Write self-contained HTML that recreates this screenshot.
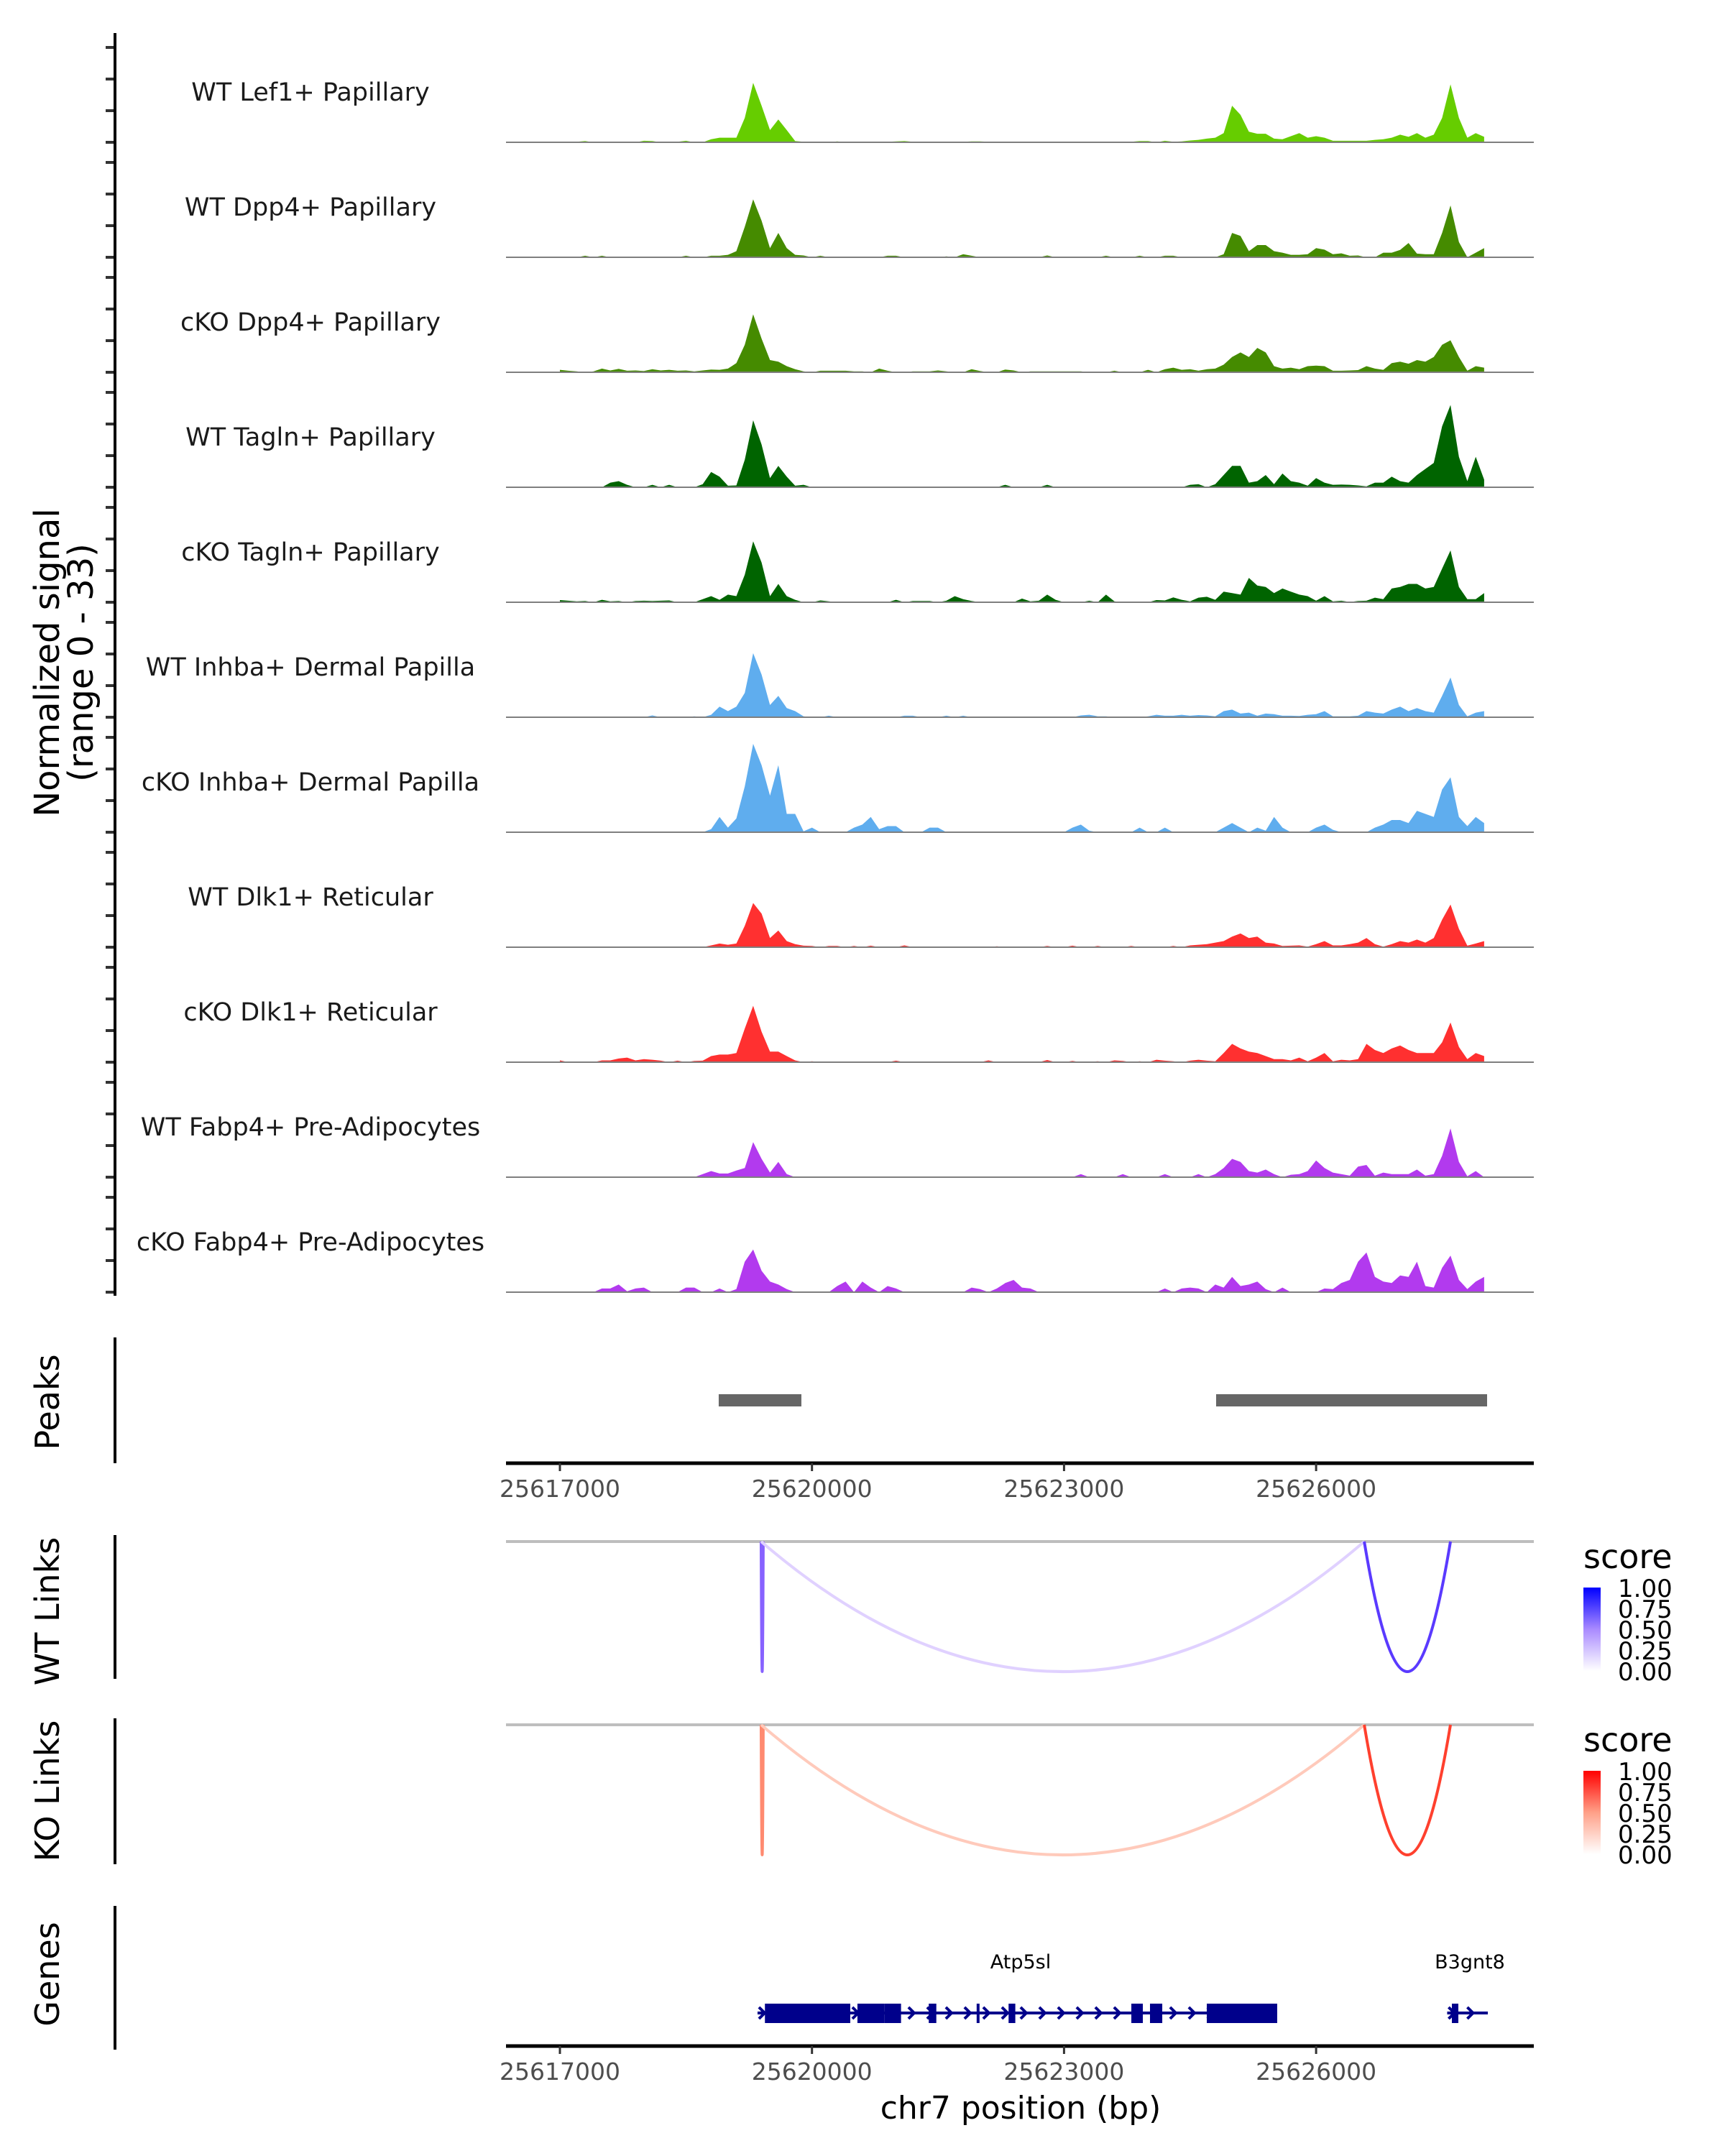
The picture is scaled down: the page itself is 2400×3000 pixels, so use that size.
<!DOCTYPE html>
<html><head><meta charset="utf-8"><style>
html,body{margin:0;padding:0;background:#fff}
svg{display:block}
text{font-family:"DejaVu Sans","Liberation Sans",sans-serif}
</style></head><body>
<svg id="chart" width="2400" height="3000" viewBox="0 0 2400 3000" xmlns="http://www.w3.org/2000/svg">
<defs>
<linearGradient id="gradBlue" x1="0" y1="1" x2="0" y2="0"><stop offset="0" stop-color="#ffffff"/><stop offset="0.5" stop-color="#a98aff"/><stop offset="1" stop-color="#0000ff"/></linearGradient>
<linearGradient id="gradRed" x1="0" y1="1" x2="0" y2="0"><stop offset="0" stop-color="#ffffff"/><stop offset="0.5" stop-color="#ffa088"/><stop offset="1" stop-color="#ff0000"/></linearGradient>
</defs>
<g id="tracks"></g>
<g id="rest"></g>
</svg>
<script>
const trackNames = ["WT Lef1+ Papillary","WT Dpp4+ Papillary","cKO Dpp4+ Papillary","WT Tagln+ Papillary","cKO Tagln+ Papillary","WT Inhba+ Dermal Papilla","cKO Inhba+ Dermal Papilla","WT Dlk1+ Reticular","cKO Dlk1+ Reticular","WT Fabp4+ Pre-Adipocytes","cKO Fabp4+ Pre-Adipocytes"];
const trackColors = ["#66cd00","#458b00","#458b00","#006400","#006400","#5fadee","#5fadee","#ff3030","#ff3030","#b23aee","#b23aee"];
const binStart = 25617000;
const binSize = 100;
const sigLef1WT = [0,0,0.2,0.4,0,0,0.2,0,0.2,0, 0.5,0.4,0,0,0.2,0.5,0,0,1,1.5, 1.5,1.5,8,19.5,12,4,7.5,4,0.4,0.2, 0,0,0,0.3,0,0,0.2,0,0,0.2, 0.3,0.4,0.2,0.2,0.2,0.2,0.2,0.2,0.2,0.3, 0.3,0.2,0,0,0,0.2,0.2,0,0.2,0, 0.2,0,0.2,0.2,0.2,0,0.2,0,0.2,0.4, 0.4,0,0.5,0.2,0.3,0.6,0.8,1.2,1.5,3, 12,9,3.5,2.8,2.8,1.2,1,2,3,1.5, 2,1.5,0.5,0.5,0.5,0.5,0.5,0.8,1,1.5, 2.5,1.8,3,1.5,2.5,8,19,8,1.5,3,1.8];
const sigDpp4WT = [0,0,0,0.5,0,0.5,0,0,0,0, 0,0,0,0,0,0.5,0,0,0.5,0.5, 0.8,2,10,19,12,3,8,3,0.8,0.6, 0,0.5,0,0,0,0,0,0,0,0.5, 0.5,0,0,0,0,0,0.3,0,1,0.5, 0,0,0,0,0,0,0,0,0.6,0, 0,0,0,0,0,0.5,0,0,0,0.5, 0,0,0.5,0.5,0,0,0,0,0,1, 8,7,2,4,4,2,1.5,0.8,0.8,1, 3,2.5,1,1.3,0.5,0.6,0,0,1.5,1.5, 2.4,4.7,1.2,1,1,8,17,5,0,1.5,3];
const sigDpp4KO = [0.8,0.5,0.3,0,0.3,1.2,0.6,1.1,0.5,0.6, 0.4,1,0.6,0.8,0.5,0.6,0.3,0.6,0.9,0.8, 1.2,3,9,19,11,4,3.5,2,1,0.3, 0,0.5,0.5,0.5,0.5,0.3,0.3,0,1.2,0.5, 0,0,0.3,0.3,0.3,0.6,0.3,0,0,1, 0.4,0,0,0.9,0.6,0,0.3,0.3,0.3,0.3, 0.3,0.3,0.3,0,0,0,0.5,0,0,0, 0.8,0,1,1.5,0.8,1,0.5,1,1.2,2.5, 5,6.5,5,8,6.5,2,1.2,1.5,1,2, 2.2,2,0.5,0.5,0.6,0.7,2,1.2,0.8,3, 3.5,2.8,4,3.5,5,9,10.5,5,0.5,2,1.5];
const sigTaglnWT = [0,0,0,0,0,0,1.5,2,0.8,0, 0,0.8,0,0.8,0,0,0,1,5,3.5, 0.5,0.6,9,22,14,3,7,3.5,0.5,0.8, 0,0,0,0,0,0,0,0,0,0, 0,0,0,0,0,0,0,0,0,0, 0,0,0,0.8,0,0,0,0,0.8,0, 0,0,0,0,0,0,0,0,0,0, 0,0,0,0,0,0.8,1,0,1,4, 7,7,1.5,2,4,1,4.5,2,1.5,0.5, 3,1.5,0.8,0.9,0.8,0.6,0.3,1.5,1.5,3.5, 2,1.5,4,6,8,20,27,10,2,10,2.5];
const sigTaglnKO = [0.7,0.5,0.3,0.4,0,0.8,0.3,0.4,0,0.4, 0.5,0.4,0.5,0.6,0,0,0,1,2,0.8, 2.5,2,9,20,13,2,6,2,0.8,0, 0,0.6,0.3,0,0,0,0,0,0,0, 0.8,0,0.4,0.4,0.4,0,0.5,2,1,0.4, 0,0,0,0,0,1.2,0.3,0.5,2.5,0.8, 0,0,0,0.5,0,2.5,0.3,0,0,0, 0,0.7,0.6,1.6,0.8,0.3,1.5,1.8,0.8,3.5, 3,2.5,8,5.5,5,3,4.5,3.5,2.5,2, 0.5,2,0.3,0.5,0.1,0.4,0.5,1.5,1,4.5, 5,6,6,4.5,5,11,17,5,1,1,3];
const sigInhbaWT = [0,0,0,0,0,0,0,0,0,0, 0,0.6,0,0,0,0,0.3,0,0.8,3.5, 2,3.5,8,21,14,4,7,3,2,0.3, 0,0,0.5,0,0,0,0,0,0,0, 0,0.5,0.5,0,0,0,0.5,0,0.5,0, 0,0,0,0,0,0,0,0,0,0, 0,0,0.6,0.8,0.3,0.3,0,0,0,0, 0.3,0.8,0.5,0.5,0.8,0.5,0.7,0.6,0.3,2, 2.5,1.2,1.5,0.5,1.2,1,0.5,0.5,0.4,0.8, 1,2,0.3,0.3,0.3,0.5,2,1.5,1.2,2.5, 3.5,2,3,2,1.5,7,13,4,0.3,1.5,2];
const sigInhbaKO = [0,0,0,0,0,0,0,0,0,0, 0,0,0,0,0,0,0,0,1,5, 1.5,4.5,15,29,22,12,22,6,6,0.3, 1.5,0,0,0,0,1.5,2.5,5,1,2, 2,0,0,0,1.5,1.5,0,0,0,0, 0,0,0,0,0,0,0,0,0,0, 0,1.5,2.5,0.5,0,0,0,0,0,1.5, 0,0,1.5,0,0,0,0,0,0,1.5, 3,1.5,0,1.5,0.5,5,1.5,0,0,0, 1.5,2.5,0.8,0,0,0,0,1.5,2.5,4, 4,3,7,6,5,14,18,5,2,5,3];
const sigDlk1WT = [0,0,0,0,0,0,0,0,0,0, 0,0,0,0,0,0,0,0,0.6,1.2, 0.8,1.2,7,14.5,11,3,5.5,2,1,0.5, 0.4,0,0.4,0.4,0,0.4,0,0.5,0,0, 0,0.6,0,0,0,0,0,0,0,0, 0,0,0.3,0,0,0,0,0,0.4,0, 0,0.5,0,0,0.4,0,0,0,0.4,0, 0,0,0,0.4,0,0.6,0.8,1,1.5,2, 3.5,4.5,3,3.5,1.5,1.2,0.4,0.5,0.6,0.2, 1,2,0.6,0.6,1,1.5,3,1,0.2,1, 2,1.5,2.5,1.5,3,9,14,6,0.5,1.2,2];
const sigDlk1KO = [0.6,0,0,0,0,0.6,0.6,1.2,1.5,0.6, 1,0.8,0.5,0,0.5,0,0.4,0.5,2,2.5, 2.5,3,11,18.5,10,3.5,3.5,2,0.6,0, 0.3,0,0,0,0,0,0,0,0,0, 0.5,0,0,0,0,0,0,0,0,0, 0,0.6,0,0,0,0,0,0,0.7,0, 0,0.4,0,0,0.3,0,0.6,0.4,0,0.3, 0,0.8,0.5,0.3,0,0.5,0.8,0.5,0.3,3, 6,4.5,3.5,3,2,1,1,0.6,1.5,0.3, 1.5,3,0.3,0.8,0.6,1,6,4,3,4.5, 5.5,4,3,3,3,6.5,13,5,1,3,2];
const sigFabp4WT = [0,0,0,0,0,0,0,0,0,0, 0,0,0,0,0,0,0,1,2,1.2, 1.2,2.2,3,11.5,6,1.5,5,1,0,0, 0,0,0,0,0,0,0,0,0,0, 0,0,0,0,0,0,0,0,0,0, 0,0,0,0,0,0,0,0,0,0, 0,0,1,0,0,0,0,1,0,0, 0,0,1,0,0,0,1,0,1,3, 6,5,2,1.5,2.5,1,0,0.8,1,2, 5.5,3,1.5,1,0.5,3.5,4,0.5,1.5,1, 1,1,2.5,0.5,1,7,16,5,0.3,2,0];
const sigFabp4KO = [0,0,0,0,0,1.2,1.2,2.5,0.3,1.2, 1.5,0,0,0,0,1.5,1.5,0,0,1.2, 0,1,10,14,7,3.5,2.5,1,0,0, 0,0,0,2,3.5,0,3.5,1.5,0,2, 1.2,0,0,0,0,0,0,0,0,1.5, 1,0,1.2,3,4,1.5,1.2,0,0,0, 0,0,0,0,0,0,0,0,0,0, 0,0,1.2,0,1.2,1.5,1.2,0,2.5,1.5, 5,2,2.5,3.5,1,0,1.5,0,0,0, 0,1.2,1,3,4,10,13,5,3.5,3, 5.5,5,10,2,1.5,8,12,4,1,3.5,5];
const signals = [sigLef1WT,sigDpp4WT,sigDpp4KO,sigTaglnWT,sigTaglnKO,sigInhbaWT,sigInhbaKO,sigDlk1WT,sigDlk1KO,sigFabp4WT,sigFabp4KO];
const xTicks = [25617000,25620000,25623000,25626000];
const xTickLabels = ["25617000","25620000","25623000","25626000"];
const peakStarts = [25618890,25624810];
const peakEnds = [25619874,25628035];
const wtLinkStarts = [25619395,25619395,25626573];
const wtLinkEnds = [25619420,25626573,25627599];
const wtLinkScores = [0.65,0.22,0.8];
const koLinkStarts = [25619395,25619395,25626573];
const koLinkEnds = [25619420,25626573,25627599];
const koLinkScores = [0.6,0.3,0.85];
const legendLabels = ["1.00","0.75","0.50","0.25","0.00"];
const atpExonStarts = [25619440,25619472,25620541,25620860,25621390,25621960,25622340,25623801,25624023,25624699];
const atpExonEnds = [25619470,25620456,25620860,25621060,25621480,25621990,25622420,25623938,25624169,25625537];
const b3ExonStarts = [25627616];
const b3ExonEnds = [25627693];

const NS="http://www.w3.org/2000/svg";
const svg=document.getElementById('chart');
const gT=document.getElementById('tracks');
const gR=document.getElementById('rest');
function el(tag,attrs,parent,txt){const e=document.createElementNS(NS,tag);for(const k in attrs)e.setAttribute(k,attrs[k]);if(txt!==undefined)e.textContent=txt;(parent||gR).appendChild(e);return e;}
const X0=779, PXBP=350.7/3000;
function xs(bp){return X0+(bp-25617000)*PXBP;}
const YMAX=33, YPX=140;
function ys(v,base){return base-v/YMAX*YPX;}
const PL=704, PR=2134;

for(let t=0;t<signals.length;t++){
  const base=198+160*t;
  const d=signals[t];
  let p='M'+xs(binStart).toFixed(1)+','+base;
  for(let i=0;i<d.length;i++){p+=' L'+xs(binStart+binSize*i).toFixed(1)+','+ys(d[i],base).toFixed(1);}
  p+=' L'+xs(binStart+binSize*(d.length-1)).toFixed(1)+','+base+' Z';
  const area=el('path',{d:p,fill:trackColors[t]},gT);
  
  
  const bl=el('line',{x1:PL,x2:PR,y1:base,y2:base,stroke:'#7f7f7f','stroke-width':2},gT);
  
  
  const lb=el('text',{x:432,y:base-58,'text-anchor':'middle','font-size':35,fill:'#1a1a1a'},gT,trackNames[t]);
  
  
  for(let k=0;k<4;k++){
    const tk=el('line',{x1:147,x2:159,y1:base-44*k,y2:base-44*k,stroke:'#333','stroke-width':4},gT);
    
    
  }
}
function vaxis(y1,y2,name){const a=el('line',{x1:160,x2:160,y1:y1,y2:y2,stroke:'#000','stroke-width':4});}
vaxis(46,1803,'signal-y-axis');
function rtitle(txt,cx,cy,size,name){const t=el('text',{x:cx,y:cy,'text-anchor':'middle','dominant-baseline':'central','font-size':size,fill:'#000',transform:'rotate(-90 '+cx+' '+cy+')'},gR,txt);}
rtitle('Normalized signal',66,922,48,'y-axis-title');
rtitle('(range 0 - 33)',113,922,48,'y-axis-range');

vaxis(1861,2036,'peaks-y-axis');
rtitle('Peaks',66,1951,46,'peaks-title');
for(let i=0;i<peakStarts.length;i++){
  const r=el('rect',{x:xs(peakStarts[i]),y:1940,width:xs(peakEnds[i])-xs(peakStarts[i]),height:17,fill:'#666666'});
  
  
}
function xaxis(y,labY,name){
  const a=el('line',{x1:PL,x2:PR,y1:y,y2:y,stroke:'#000','stroke-width':5});
  
  for(let i=0;i<xTicks.length;i++){
    const tk=el('line',{x1:xs(xTicks[i]),x2:xs(xTicks[i]),y1:y,y2:y+11,stroke:'#333','stroke-width':3});
    
    const tl=el('text',{x:xs(xTicks[i]),y:labY,'text-anchor':'middle','font-size':33,fill:'#4d4d4d'},gR,xTickLabels[i]);
    
  }
}
xaxis(2036,2083,'peaks-x-axis');

function rampColor(s,hi){const c=hi==='b'?[[255,255,255],[220,203,255],[169,138,255],[112,72,255],[0,0,255]]:[[255,255,255],[255,213,200],[255,160,136],[255,106,76],[255,0,0]];const f=s*4;const i=Math.min(3,Math.floor(f));const r=f-i;const a=c[i],b=c[i+1];return 'rgb('+a.map((v,k)=>Math.round(v+(b[k]-v)*r)).join(',')+')';}
function links(top,bot,starts,ends,scores,hue,prefix,title,axY1,axY2,titleY,legTop,grad){
  const tl=el('line',{x1:PL,x2:PR,y1:top,y2:top,stroke:'#bebebe','stroke-width':4});
  
  for(let i=0;i<starts.length;i++){
    const x1=xs(starts[i]),x2=xs(ends[i]),cy=top+2*(bot-top);
    const pth=el('path',{d:'M'+x1+','+top+' Q'+((x1+x2)/2)+','+cy+' '+x2+','+top,fill:'none',stroke:rampColor(scores[i],hue),'stroke-width':4});
    
    
  }
  vaxis(axY1,axY2,prefix+'-y-axis');
  rtitle(title,66,titleY,46,prefix+'-title');
  const lt=el('text',{x:2203,y:legTop,'font-size':46,fill:'#000'},gR,'score');
  
  const bar=el('rect',{x:2203,y:legTop+27,width:24,height:116,fill:'url(#'+grad+')'});
  
  for(let i=0;i<legendLabels.length;i++){
    const t=el('text',{x:2251,y:legTop+40+29*i,'font-size':34,fill:'#000'},gR,legendLabels[i]);
    
  }
}
links(2145,2326,wtLinkStarts,wtLinkEnds,wtLinkScores,'b','wt-links','WT Links',2136,2336,2242,2182,'gradBlue');
links(2400,2581,koLinkStarts,koLinkEnds,koLinkScores,'r','ko-links','KO Links',2391,2594,2492,2437,'gradRed');

vaxis(2652,2852,'genes-y-axis');
rtitle('Genes',66,2747,46,'genes-title');
const NAVY='#00008b';
function gene(start,end,es,ee,name,labX){
  const gl=el('line',{x1:xs(start),x2:xs(end),y1:2801,y2:2801,stroke:NAVY,'stroke-width':4});
  
  for(let x=xs(start)+6;x<xs(end)-4;x+=26){
    const ch=el('polyline',{points:(x-4)+',2793 '+(x+4)+',2801 '+(x-4)+',2809',fill:'none',stroke:NAVY,'stroke-width':4});
    
  }
  for(let i=0;i<es.length;i++){
    const r=el('rect',{x:xs(es[i]),y:2788,width:Math.max(4,xs(ee[i])-xs(es[i])),height:27,fill:NAVY});
    
  }
  const t=el('text',{x:labX,y:2739,'text-anchor':'middle','font-size':27,fill:'#000'},gR,name);
  
}
gene(25619352,25625537,atpExonStarts,atpExonEnds,'Atp5sl',1420);
gene(25627560,25628044,b3ExonStarts,b3ExonEnds,'B3gnt8',2045);
xaxis(2847,2894,'genes-x-axis');
const xt=el('text',{x:1420,y:2948,'text-anchor':'middle','font-size':44,fill:'#000'},gR,'chr7 position (bp)');


</script>
</body></html>
